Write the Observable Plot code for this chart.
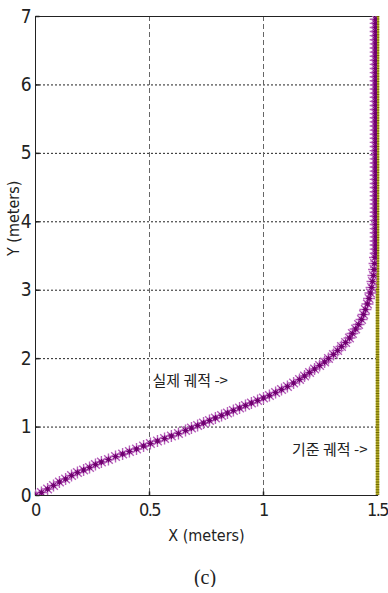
<!DOCTYPE html>
<html>
<head>
<meta charset="utf-8">
<script src="https://cdn.jsdelivr.net/npm/d3@7"></script>
<script src="https://cdn.jsdelivr.net/npm/@observablehq/plot@0.6"></script>
<style>
  body { margin: 0; background: #fff; }
  #caption { width: 388px; box-sizing: border-box; padding-left: 22px; margin-top: 14px;
             text-align: center; font-family: "Liberation Serif", "DejaVu Serif", serif;
             font-size: 20px; line-height: 20px; color: #222; }
  g[aria-label="x-axis tick label"] text { letter-spacing: -1.5px; }
</style>
</head>
<body>
<div id="chart"></div>
<div id="caption">(c)</div>
<script>
// Axis ticks
const xTicks = [0, 0.5, 1, 1.5];
const yTicks = [0, 1, 2, 3, 4, 5, 6, 7];
const xGrid = [0.5, 1];
const yGrid = [1, 2, 3, 4, 5, 6];

// Reference path (기준 궤적): straight line at x = 1.5
const refX = [1.5];

// Actual path (실제 궤적): curved approach, sampled positions
const curveX = [0, 0.026, 0.053, 0.079, 0.105, 0.132, 0.158, 0.184, 0.211, 0.237, 0.263, 0.289,
  0.320, 0.351, 0.382, 0.412, 0.443, 0.474, 0.504, 0.535, 0.566, 0.596, 0.627, 0.658, 0.684,
  0.711, 0.737, 0.763, 0.789, 0.816, 0.842, 0.868, 0.895, 0.921, 0.947, 0.974, 1.000, 1.026,
  1.053, 1.079, 1.105, 1.132, 1.158, 1.180, 1.202, 1.224, 1.246, 1.268, 1.285, 1.307, 1.325,
  1.342, 1.360, 1.377, 1.390, 1.404, 1.417, 1.430, 1.439, 1.447, 1.456, 1.463, 1.469, 1.474,
  1.478, 1.482, 1.485, 1.487, 1.489];
const curveY = [0, 0.044, 0.095, 0.146, 0.197, 0.241, 0.292, 0.336, 0.373, 0.409, 0.453, 0.490,
  0.526, 0.570, 0.606, 0.643, 0.680, 0.723, 0.760, 0.796, 0.833, 0.870, 0.906, 0.950, 0.986,
  1.023, 1.059, 1.096, 1.133, 1.169, 1.206, 1.242, 1.279, 1.315, 1.352, 1.388, 1.425, 1.461,
  1.505, 1.549, 1.593, 1.644, 1.695, 1.746, 1.797, 1.849, 1.900, 1.951, 2.002, 2.061, 2.119,
  2.177, 2.236, 2.302, 2.367, 2.433, 2.499, 2.572, 2.645, 2.718, 2.799, 2.879, 2.959, 3.040,
  3.127, 3.215, 3.303, 3.390, 3.478];
// Straight run along the reference once the path has converged
const straightX = 1.492;
const straightY = [3.54, 3.6, 3.66, 3.72, 3.78, 3.84, 3.9, 3.96, 4.02, 4.08, 4.14, 4.2, 4.26,
  4.32, 4.38, 4.44, 4.5, 4.56, 4.62, 4.68, 4.74, 4.8, 4.86, 4.92, 4.98, 5.04, 5.1, 5.16, 5.22,
  5.28, 5.34, 5.4, 5.46, 5.52, 5.58, 5.64, 5.7, 5.76, 5.82, 5.88, 5.94, 6.0, 6.06, 6.12, 6.18,
  6.24, 6.3, 6.36, 6.42, 6.48, 6.54, 6.6, 6.66, 6.72, 6.78, 6.84, 6.9, 6.96];

// Annotations
const actualLabel = {text: "실제 궤적 ->", x: 0.513, y: 1.67};
const refLabel = {text: "기준 궤적 ->", x: 1.456, y: 0.66};

const actual = curveX.map((x, i) => ({x, y: curveY[i]}))
  .concat(straightY.map(y => ({x: straightX, y})));

// Eight-armed asterisk marker
const star = {
  draw(ctx, size) {
    const r = Math.sqrt(size / Math.PI);
    const d = r * 0.72;
    ctx.moveTo(-r, 0); ctx.lineTo(r, 0);
    ctx.moveTo(0, -r); ctx.lineTo(0, r);
    ctx.moveTo(-d, -d); ctx.lineTo(d, d);
    ctx.moveTo(-d, d); ctx.lineTo(d, -d);
  }
};
// Short inward tick marks
const tickUp = { draw(ctx) { ctx.moveTo(0, 0); ctx.lineTo(0, -4); } };
const tickRight = { draw(ctx) { ctx.moveTo(0, 0); ctx.lineTo(4, 0); } };

const narrow = "'Liberation Sans Narrow', 'DejaVu Sans Condensed', 'Arial Narrow', sans-serif";
const korean = "'Noto Sans CJK KR', sans-serif";

const chart = Plot.plot({
  width: 388,
  height: 553,
  marginTop: 16,
  marginBottom: 58,
  marginLeft: 35,
  marginRight: 11,
  style: {fontFamily: narrow, fontSize: "20px", color: "#222", background: "#fff", overflow: "visible"},
  x: {domain: [0, 1.5]},
  y: {domain: [0, 7]},
  marks: [
    Plot.ruleY(yGrid, {stroke: "#222", strokeWidth: 1, strokeDasharray: "2,2"}),
    Plot.ruleX(xGrid, {stroke: "#666", strokeWidth: 1, strokeDasharray: "5,3"}),
    Plot.frame({stroke: "#222"}),
    Plot.dot(xTicks, {x: d => d, frameAnchor: "bottom", symbol: tickUp, stroke: "#222", r: 2}),
    Plot.dot(yTicks, {y: d => d, frameAnchor: "left", symbol: tickRight, stroke: "#222", r: 2}),
    Plot.axisX({ticks: xTicks, tickSize: 0, tickPadding: 8, tickFormat: d => String(d),
      fontSize: 18, label: null}),
    Plot.axisY({ticks: yTicks, tickSize: 0, tickPadding: 4, tickFormat: d => String(d),
      fontSize: 19, label: null}),
    Plot.text(["X (meters)"], {frameAnchor: "bottom", dy: 45, fontSize: 16, fill: "#222"}),
    Plot.text(["Y (meters)"], {frameAnchor: "left", dx: -22, rotate: -90, fontSize: 16, fill: "#222"}),
    // reference path
    Plot.ruleX(refX, {stroke: "#b5ad2a", strokeWidth: 3.5}),
    Plot.ruleX(refX, {stroke: "#6e6800", strokeWidth: 3.5, strokeDasharray: "1,1.6"}),
    // actual path markers
    Plot.dot(actual, {x: "x", y: "y", symbol: star, r: 6, stroke: "#b45cb8", strokeWidth: 1.4, clip: true}),
    Plot.dot(actual, {x: "x", y: "y", symbol: star, r: 3, stroke: "#7a067a", strokeWidth: 1.2, clip: true}),
    Plot.dot(actual, {x: "x", y: "y", r: 1.8, fill: "#6e006e", clip: true}),
    Plot.text([actualLabel], {x: "x", y: "y", text: "text", textAnchor: "start",
      fontFamily: korean, fontSize: 15, fill: "#222"}),
    Plot.text([refLabel], {x: "x", y: "y", text: "text", textAnchor: "end",
      fontFamily: korean, fontSize: 15, fill: "#222"})
  ]
});
document.getElementById("chart").append(chart);
</script>
</body>
</html>
